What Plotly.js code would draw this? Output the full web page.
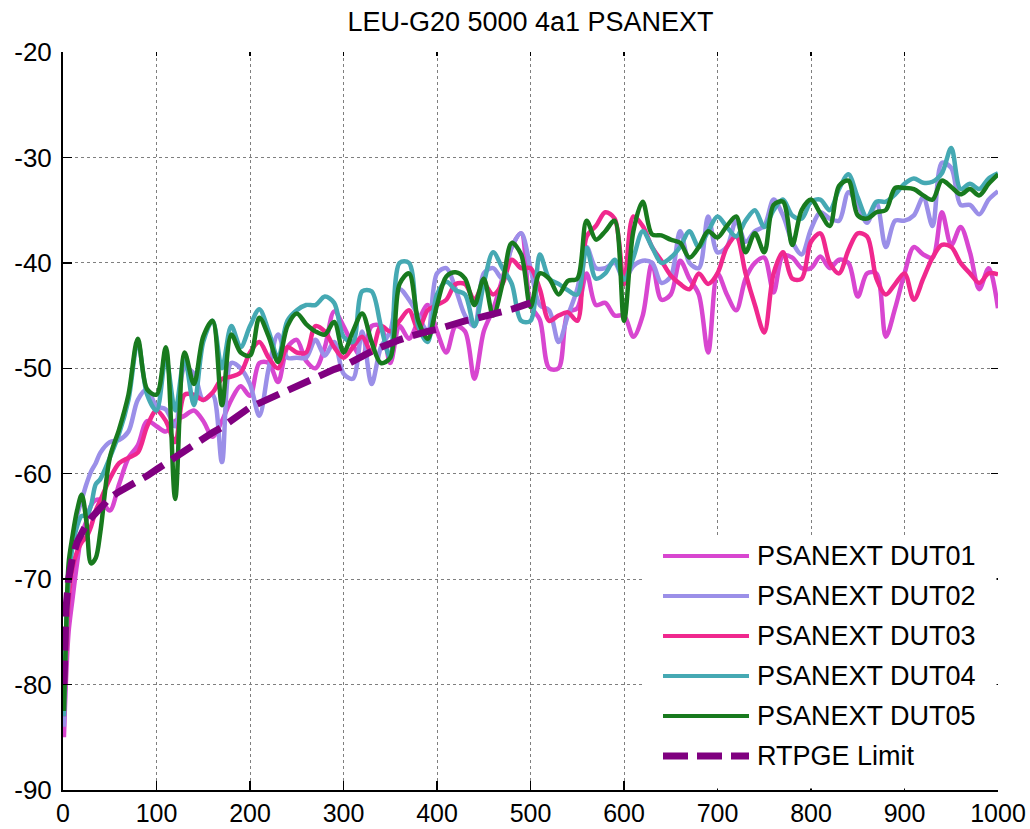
<!DOCTYPE html>
<html>
<head>
<meta charset="utf-8">
<script src="https://cdn.plot.ly/plotly-3.0.1.min.js"></script>
<style>html,body{margin:0;padding:0;background:#fff;}#chart{width:1030px;height:829px;}</style>
</head>
<body>
<div id="chart"></div>
<script>
// ---------- data ----------
const freq = [1,3,6,10,15,20,25,30,35,
  40,50,60,70,80,90,100,110,120,130,140,150,160,170,180,190,200,210,220,230,240,250,260,270,280,290,
  300,310,320,330,340,350,360,370,380,390,400,410,420,430,440,450,460,470,480,490,500,510,520,530,540,
  550,560,570,580,590,600,610,620,630,640,650,660,670,680,690,700,710,720,730,740,750,760,770,780,790,
  800,810,820,830,840,850,860,870,880,890,900,910,920,930,940,950,960,970,980,990,1000];

const dut01 = [-85,-80,-75,-72,-68.5,-65.7,-64.5,-63,-62.5,
  -62.5,-63.5,-61,-58.5,-57.3,-55,-55.5,-56,-55,-54.5,-54,-55,-56.5,-55,-53,-51.7,-52.6,-49.5,-49.5,-51.3,-48,-47.3,-49.3,-50,-48,-44.6,
  -46,-47.8,-49,-46,-46,-49.5,-46,-47.2,-45.5,-44,-46.5,-48.5,-46,-46.5,-51,-46.5,-44.4,-41.5,-38.5,-37.2,-44,-45.4,-50,-50,-44.7,
  -44.3,-41,-44,-43.8,-45,-45,-47,-45,-40,-43.5,-43,-39.8,-41.5,-43,-48.5,-41,-43,-44.5,-41.5,-40,-39.5,-42.8,-39.3,-39.5,-40.5,
  -40.5,-39.4,-40.5,-39.7,-40,-43.2,-41,-41,-47,-44.3,-41,-38.5,-39.2,-39.5,-35.2,-38.3,-36.6,-39,-42.5,-40.5,-44.3];

const dut02 = [-84,-78,-71,-66.5,-64,-62.5,-61,-59.8,-59,
  -58,-57,-56.8,-56,-53,-52,-53.6,-53.9,-55.5,-50,-50.5,-53,-52.5,-58.9,-49.5,-50,-51.5,-54.5,-50,-46.8,-49,-49,-49,-47.3,-48.8,-47.5,
  -50.5,-51,-46.5,-51.5,-48,-46.5,-42.5,-43.5,-45,-46.5,-41,-40.5,-42.5,-45,-46,-41,-40.5,-41.5,-38.5,-37.2,-40.5,-44,-44.5,-47.5,-45,
  -42.5,-38.5,-40.5,-40.5,-40,-41.6,-40.3,-39.8,-40,-41.9,-41.3,-37,-40,-40.5,-35.6,-39,-38.5,-36,-38,-37,-36.5,-34,-35.5,-38,-39.2,
  -36.8,-35.2,-35.8,-36,-33.3,-34.5,-36.2,-34.3,-38.5,-36,-36,-35.5,-33.8,-36.5,-30.5,-31,-34.5,-34.5,-35.4,-34,-33.2];

const dut03 = [-83,-78,-72,-69,-67.4,-66.5,-66,-65,-63.5,
  -62.5,-60.5,-59,-58.5,-58,-55.5,-54,-55,-57,-52.5,-52.5,-53,-52.3,-51,-50.8,-50.4,-48.5,-47.5,-49,-50,-48,-48.5,-48.5,-46,-46.5,-48,
  -49,-48,-47,-48.5,-46,-46.5,-45.5,-44.5,-46.3,-44.5,-44,-43.5,-42,-42,-43.5,-42,-43,-42,-39.7,-40.5,-40.5,-42.5,-45.5,-45,-44.7,
  -45.5,-37.5,-36.5,-35.2,-35.8,-42,-35.6,-36.5,-38.5,-39.8,-41.2,-42,-42.5,-41,-42,-41,-38.5,-37.5,-41,-44,-46.6,-41,-39,-41.5,-41.5,
  -38,-37.2,-40,-41,-38.8,-37.2,-37.5,-41.5,-43,-42,-41,-43.5,-41.5,-39.5,-38.3,-38.5,-40,-41,-41.9,-41,-41.1];

const dut04 = [-83,-76,-70,-67,-65,-64,-64,-63,-61,
  -60.5,-58.5,-56.2,-53,-47.5,-52.5,-54,-49,-54,-49,-53.5,-47.5,-45.5,-50,-46,-48,-46,-44.4,-46.5,-49,-45.5,-44.5,-44,-44,-43.2,-43.8,
  -47,-47.5,-42.7,-42.7,-46,-49,-40,-40,-46,-47.5,-43,-41.8,-42.6,-43,-46,-42,-39,-40.5,-42,-45.5,-45.5,-39.2,-41.5,-42,-42.6,
  -43,-38.6,-41.5,-41,-39.7,-41.6,-39.5,-37,-38.5,-40,-39.5,-38.5,-37,-38.5,-37,-35.6,-36.6,-37.5,-36,-35,-36.6,-35,-34,-35.5,-35.8,
  -34.2,-34,-35,-33,-31.6,-33.8,-35.7,-34.2,-34.2,-33.5,-32.5,-32,-32.4,-32.3,-31.5,-29.1,-33,-32.5,-33,-32,-31.5];

const dut05 = [-82.5,-76,-68.5,-66,-63.5,-62,-64.5,-68.5,-68,
  -65.5,-58.5,-55.8,-52.5,-47.2,-52,-52.5,-48,-62.4,-48.5,-51.5,-47,-45.5,-53.5,-46.8,-48.5,-48.8,-45.2,-47,-49.4,-46,-44.8,-45.8,-46.5,-46.8,-45.6,
  -48.5,-46.5,-44.8,-47.5,-49.5,-49,-42,-41,-45.5,-47.2,-44,-41.3,-40.9,-41.5,-44,-41.5,-45,-42,-38.1,-39.2,-44.2,-41,-41.5,-43,-41.7,
  -41.5,-36,-37.8,-37,-36,-45.5,-37,-34.2,-37.3,-37.4,-37.8,-38.1,-39.5,-38.5,-37,-37.6,-36.5,-35.6,-39,-37.2,-39,-34.5,-34.2,-38.3,-35,
  -34,-35.3,-36.5,-32.7,-32.2,-35.5,-35.8,-35.2,-35,-32.9,-32.9,-33,-33.6,-34,-32.2,-32.8,-33.5,-33,-33.6,-32.5,-31.6];

const limitFreq = [1,3,6,10,15,20,25,30,35,40,50,60,70,80,90,100,110,120,130,140,150,160,170,180,190,200,
  210,220,230,240,250,260,270,280,290,300,310,320,330,340,350,360,370,380,390,400,410,420,430,440,450,460,470,480,490,500];
const limitVals = [-80,-73,-70,-68,-66.5,-65.5,-64.8,-64.2,-63.7,-63.2,-62.3,-61.7,-61.2,-60.8,-60.2,-59.6,-59,-58.5,-57.8,-57.2,-56.7,-56.1,-55.6,-55,-54.3,-53.7,
  -53.3,-52.9,-52.4,-52,-51.7,-51.3,-50.9,-50.5,-50.1,-49.8,-49.3,-48.8,-48.4,-48,-47.6,-47.3,-47,-46.7,-46.5,-46.3,-46,-45.8,-45.5,-45.3,-45.1,-44.9,-44.7,-44.4,-44.1,-43.8];

const seriesNames = ['PSANEXT DUT01','PSANEXT DUT02','PSANEXT DUT03','PSANEXT DUT04','PSANEXT DUT05','RTPGE Limit'];
const xTicks = [0,100,200,300,400,500,600,700,800,900,1000];
const yTicks = [-90,-80,-70,-60,-50,-40,-30,-20];
const chartTitle = 'LEU-G20 5000 4a1 PSANEXT';

// ---------- styles ----------
const colors = ['#d846d0','#9b8fe8','#f0288e','#45a9b3','#187a1e','#800080'];
const widths = [4.5,4.5,4.5,4.5,4.5,7];
const dashes = ['solid','solid','solid','solid','solid','24px,10px'];
const FONT = 'Liberation Sans, Arial, sans-serif';

const ys = [dut01,dut02,dut03,dut04,dut05,limitVals];
const xsAll = [freq,freq,freq,freq,freq,limitFreq];

const traces = ys.map((y,i)=>({
  type:'scatter', mode:'lines', x:xsAll[i], y:y, name:seriesNames[i],
  line:{color:colors[i], width:widths[i], dash:dashes[i], shape: i<5 ? 'spline':'linear', smoothing:0.9},
  showlegend:false, hoverinfo:'skip'
}));
// empty trace to realise mirrored tick axes
traces.push({type:'scatter', mode:'lines', x:[], y:[], xaxis:'x2', yaxis:'y2', showlegend:false, hoverinfo:'skip'});

// ---------- custom legend (paper coords) ----------
const W=1030, H=829, L=63, R=32, T=52, B=39;
const pw = W-L-R, ph = H-T-B;
const px2x = p => (p-L)/pw;
const py2y = p => (H-B-p)/ph;
const shapes = [{type:'rect', xref:'paper', yref:'paper',
  x0:px2x(645), x1:px2x(996.5), y0:py2y(H-B-1.5), y1:py2y(535),
  fillcolor:'#ffffff', line:{width:0}, layer:'above'}];
const annotations = [];
seriesNames.forEach((n,i)=>{
  const cy = 556 + i*40;
  shapes.push({type:'line', xref:'paper', yref:'paper', x0:px2x(663), x1:px2x(749), y0:py2y(cy), y1:py2y(cy),
    line:{color:colors[i], width: i<5 ? 4 : 7, dash: i<5 ? 'solid' : '25px,9px'}, layer:'above'});
  annotations.push({xref:'paper', yref:'paper', x:px2x(755), y:py2y(cy), xanchor:'left', yanchor:'middle',
    text:n, showarrow:false, font:{family:FONT, size:27, color:'#000'}});
});

const axisCommon = {
  showgrid:true, gridcolor:'#7f7f7f', griddash:'dot', gridwidth:1,
  showline:true, linecolor:'#000', linewidth:2, zeroline:false,
  ticks:'inside', ticklen:9, tickwidth:1.5, tickcolor:'#000',
  tickfont:{family:FONT, size:26, color:'#000'}
};

const layout = {
  width:W, height:H,
  margin:{l:L, r:R, t:T, b:B, pad:0},
  paper_bgcolor:'#fff', plot_bgcolor:'#fff',
  title:{text:chartTitle, font:{family:FONT, size:27, color:'#000'}, x:0.5, xref:'paper', xanchor:'center', y:1-22/H, yref:'container', yanchor:'middle'},
  xaxis:Object.assign({}, axisCommon, {range:[0,1000], tickmode:'array', tickvals:xTicks, ticktext:xTicks.map(String), ticklabelstandoff:0,
    tickfont:{family:FONT, size:25, color:'#000'}}),
  yaxis:Object.assign({}, axisCommon, {range:[-90,-20], tickmode:'array', tickvals:yTicks, ticktext:yTicks.map(String), ticklabelstandoff:4}),
  xaxis2:{overlaying:'x', side:'top', anchor:'y', range:[0,1000], tickmode:'array', tickvals:xTicks, showticklabels:false,
    showgrid:false, showline:false, zeroline:false, ticks:'inside', ticklen:4, tickwidth:1.5, tickcolor:'#000'},
  yaxis2:{overlaying:'y', side:'right', anchor:'x', range:[-90,-20], tickmode:'array', tickvals:yTicks, showticklabels:false,
    showgrid:false, showline:false, zeroline:false, ticks:'inside', ticklen:7, tickwidth:1.5, tickcolor:'#000'},
  shapes:shapes, annotations:annotations, showlegend:false
};

Plotly.newPlot('chart', traces, layout, {displayModeBar:false, staticPlot:true});
</script>
</body>
</html>
